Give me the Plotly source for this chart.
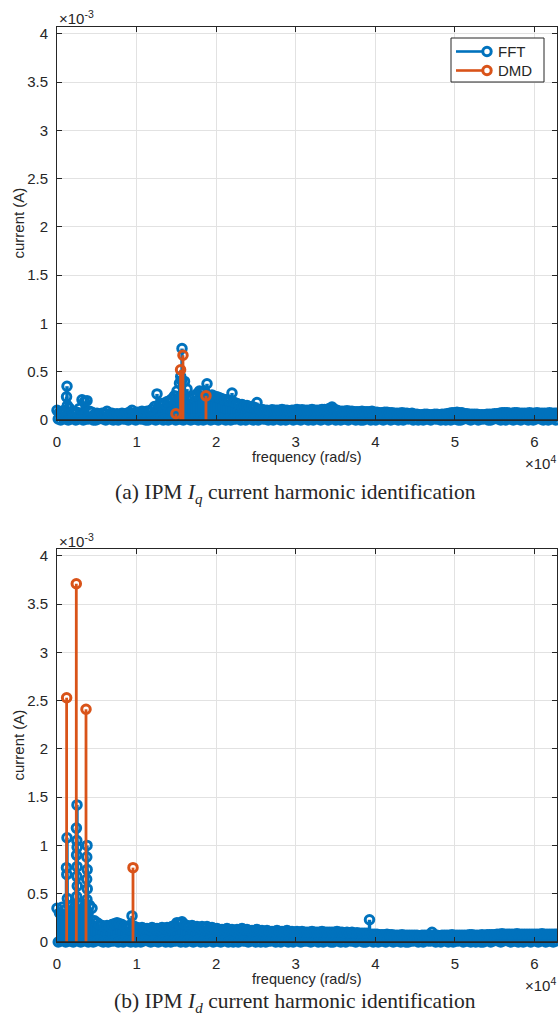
import numpy as np
import plotly.graph_objects as go

# ---------------------------------------------------------------------------
# Data (current amplitudes in mA, frequencies in rad/s)
# ---------------------------------------------------------------------------
BIN = 2 * np.pi * 50          # FFT bin spacing of the harmonic grid (rad/s)
X_MAX = 2 * np.pi * 1e4       # upper frequency limit (rad/s)
Y_MAX = 4.07e-3               # upper current limit (A)

# IPM Iq : FFT amplitude on the harmonic grid (bin k -> k*BIN)
fft_q_mA = [
    0.10, 0.08, 0.09, 0.10, 0.35, 0.12, 0.09, 0.08, 0.08, 0.12,
    0.21, 0.19, 0.20, 0.09, 0.08, 0.06, 0.07, 0.06, 0.07, 0.07,
    0.09, 0.06, 0.07, 0.06, 0.065, 0.06, 0.07, 0.06, 0.07, 0.08,
    0.10, 0.07, 0.08, 0.08, 0.09, 0.08, 0.09, 0.09, 0.11, 0.14,
    0.27, 0.16, 0.17, 0.17, 0.19, 0.20, 0.22, 0.25, 0.30, 0.38,
    0.74, 0.40, 0.32, 0.22, 0.24, 0.25, 0.27, 0.30, 0.29, 0.30,
    0.375, 0.25, 0.26, 0.24, 0.24, 0.23, 0.22, 0.21, 0.21, 0.20,
    0.28, 0.18, 0.17, 0.16, 0.16, 0.15, 0.15, 0.14, 0.14, 0.13,
    0.18, 0.11, 0.11, 0.10, 0.10, 0.095, 0.105, 0.10, 0.10, 0.10,
    0.11, 0.10, 0.10, 0.095, 0.10, 0.10, 0.11, 0.10, 0.105, 0.10,
    0.10, 0.10, 0.11, 0.10, 0.10, 0.10, 0.11, 0.11, 0.11, 0.12,
    0.135, 0.11, 0.10, 0.09, 0.09, 0.09, 0.095, 0.09, 0.09, 0.085,
    0.085, 0.085, 0.09, 0.085, 0.085, 0.085, 0.09, 0.08, 0.08, 0.075,
    0.075, 0.08, 0.08, 0.075, 0.075, 0.07, 0.07, 0.07, 0.075, 0.07,
    0.07, 0.065, 0.07, 0.06, 0.06, 0.055, 0.055, 0.06, 0.06, 0.055,
    0.055, 0.06, 0.06, 0.055, 0.06, 0.06, 0.065, 0.07, 0.075, 0.075,
    0.08, 0.075, 0.075, 0.065, 0.065, 0.06, 0.06, 0.06, 0.06, 0.055,
    0.055, 0.055, 0.06, 0.06, 0.06, 0.065, 0.065, 0.07, 0.075, 0.075,
    0.075, 0.07, 0.07, 0.075, 0.075, 0.07, 0.07, 0.07, 0.07, 0.075,
    0.07, 0.07, 0.075, 0.07, 0.07, 0.07, 0.07, 0.075, 0.07, 0.07,
    0.07,
]
# low-level bins in between the grid lines (bin k -> (k+0.5)*BIN)
fft_q_floor_mA = [
    0.01, 0.00, 0.02, 0.01, 0.00, 0.01, 0.03, 0.00, 0.01, 0.02,
    0.00, 0.01, 0.01, 0.02, 0.00, 0.00, 0.01, 0.02, 0.01, 0.00,
    0.02, 0.01, 0.00, 0.01, 0.00, 0.02, 0.01, 0.01, 0.00, 0.02,
    0.01, 0.00, 0.02, 0.01, 0.01, 0.00, 0.00, 0.02, 0.01, 0.00,
    0.01, 0.02, 0.00, 0.01, 0.00, 0.01, 0.02, 0.00, 0.01, 0.01,
    0.00, 0.02, 0.01, 0.00, 0.01, 0.01, 0.00, 0.02, 0.00, 0.01,
    0.02, 0.00, 0.01, 0.01, 0.00, 0.02, 0.01, 0.00, 0.01, 0.00,
    0.01, 0.01, 0.02, 0.00, 0.01, 0.00, 0.02, 0.01, 0.00, 0.01,
    0.00, 0.02, 0.01, 0.01, 0.00, 0.01, 0.00, 0.02, 0.01, 0.00,
    0.01, 0.00, 0.01, 0.02, 0.00, 0.01, 0.01, 0.00, 0.02, 0.01,
    0.00, 0.01, 0.00, 0.02, 0.01, 0.00, 0.01, 0.02, 0.00, 0.01,
    0.02, 0.00, 0.01, 0.00, 0.01, 0.01, 0.00, 0.02, 0.01, 0.00,
    0.01, 0.00, 0.00, 0.01, 0.02, 0.00, 0.01, 0.00, 0.02, 0.01,
    0.00, 0.01, 0.02, 0.00, 0.01, 0.01, 0.00, 0.01, 0.00, 0.02,
    0.01, 0.02, 0.00, 0.01, 0.00, 0.02, 0.00, 0.01, 0.01, 0.00,
    0.02, 0.01, 0.01, 0.00, 0.01, 0.00, 0.02, 0.00, 0.01, 0.01,
    0.00, 0.00, 0.01, 0.02, 0.01, 0.00, 0.01, 0.02, 0.00, 0.01,
    0.01, 0.02, 0.00, 0.00, 0.01, 0.02, 0.01, 0.00, 0.01, 0.00,
    0.02, 0.01, 0.00, 0.01, 0.01, 0.00, 0.02, 0.01, 0.00, 0.01,
    0.00, 0.01, 0.02, 0.01, 0.00, 0.01, 0.00, 0.01, 0.02, 0.00,
]
# side-band FFT lines close to the main harmonics
fft_q_side_freq = [1200, 1300, 15550, 15650]
fft_q_side_mA = [0.24, 0.15, 0.45, 0.41]
# DMD identified harmonics
dmd_q_freq = [14950, 15530, 15830, 18720]
dmd_q_mA = [0.065, 0.52, 0.67, 0.25]

# IPM Id : FFT amplitude on the harmonic grid
fft_d_mA = [
    0.35, 0.30, 0.36, 0.33, 1.08, 0.37, 0.38, 0.36, 1.42, 0.38,
    0.40, 0.37, 1.00, 0.38, 0.35, 0.22, 0.20, 0.18, 0.17, 0.16,
    0.17, 0.16, 0.18, 0.19, 0.20, 0.19, 0.18, 0.16, 0.16, 0.17,
    0.27, 0.16, 0.15, 0.14, 0.15, 0.14, 0.14, 0.13, 0.15, 0.14,
    0.14, 0.14, 0.15, 0.14, 0.15, 0.15, 0.16, 0.17, 0.20, 0.19,
    0.21, 0.18, 0.17, 0.16, 0.17, 0.16, 0.16, 0.15, 0.16, 0.15,
    0.16, 0.14, 0.15, 0.14, 0.14, 0.13, 0.13, 0.13, 0.14, 0.13,
    0.13, 0.12, 0.13, 0.13, 0.14, 0.13, 0.13, 0.12, 0.12, 0.12,
    0.13, 0.12, 0.12, 0.11, 0.12, 0.11, 0.11, 0.11, 0.12, 0.11,
    0.11, 0.11, 0.12, 0.11, 0.11, 0.10, 0.11, 0.10, 0.11, 0.10,
    0.10, 0.10, 0.11, 0.10, 0.10, 0.10, 0.11, 0.10, 0.10, 0.10,
    0.10, 0.10, 0.11, 0.10, 0.10, 0.095, 0.10, 0.095, 0.10, 0.09,
    0.095, 0.09, 0.09, 0.09, 0.09, 0.23, 0.08, 0.08, 0.08, 0.075,
    0.075, 0.075, 0.08, 0.075, 0.075, 0.07, 0.07, 0.07, 0.075, 0.07,
    0.07, 0.07, 0.07, 0.07, 0.07, 0.065, 0.07, 0.07, 0.07, 0.07,
    0.10, 0.07, 0.07, 0.065, 0.07, 0.07, 0.07, 0.07, 0.075, 0.07,
    0.07, 0.07, 0.07, 0.07, 0.07, 0.075, 0.075, 0.07, 0.07, 0.07,
    0.075, 0.07, 0.075, 0.075, 0.075, 0.075, 0.08, 0.08, 0.085, 0.08,
    0.08, 0.08, 0.08, 0.08, 0.085, 0.08, 0.08, 0.08, 0.08, 0.08,
    0.08, 0.08, 0.08, 0.08, 0.085, 0.08, 0.08, 0.08, 0.08, 0.08,
    0.08,
]
fft_d_floor_mA = [
    0.00, 0.01, 0.02, 0.00, 0.01, 0.01, 0.00, 0.02, 0.01, 0.00,
    0.01, 0.02, 0.00, 0.01, 0.00, 0.01, 0.02, 0.01, 0.00, 0.01,
    0.00, 0.01, 0.01, 0.02, 0.00, 0.01, 0.00, 0.02, 0.01, 0.00,
    0.02, 0.00, 0.01, 0.00, 0.01, 0.02, 0.01, 0.00, 0.01, 0.01,
    0.00, 0.01, 0.02, 0.00, 0.01, 0.00, 0.01, 0.01, 0.02, 0.00,
    0.01, 0.00, 0.02, 0.01, 0.00, 0.01, 0.02, 0.00, 0.01, 0.00,
    0.01, 0.02, 0.00, 0.01, 0.01, 0.00, 0.01, 0.02, 0.00, 0.01,
    0.00, 0.01, 0.00, 0.02, 0.01, 0.01, 0.00, 0.01, 0.02, 0.00,
    0.01, 0.00, 0.02, 0.00, 0.01, 0.01, 0.02, 0.00, 0.01, 0.00,
    0.02, 0.01, 0.00, 0.01, 0.00, 0.02, 0.01, 0.00, 0.01, 0.01,
    0.01, 0.00, 0.01, 0.02, 0.00, 0.01, 0.00, 0.01, 0.02, 0.00,
    0.00, 0.02, 0.01, 0.00, 0.01, 0.00, 0.02, 0.01, 0.01, 0.00,
    0.02, 0.01, 0.00, 0.00, 0.01, 0.02, 0.00, 0.01, 0.00, 0.01,
    0.01, 0.00, 0.02, 0.01, 0.00, 0.01, 0.01, 0.00, 0.02, 0.00,
    0.00, 0.01, 0.01, 0.02, 0.00, 0.01, 0.00, 0.02, 0.01, 0.01,
    0.02, 0.00, 0.01, 0.00, 0.02, 0.01, 0.00, 0.01, 0.00, 0.01,
    0.01, 0.02, 0.00, 0.01, 0.01, 0.00, 0.02, 0.00, 0.01, 0.00,
    0.00, 0.01, 0.02, 0.00, 0.01, 0.02, 0.01, 0.00, 0.01, 0.02,
    0.01, 0.00, 0.01, 0.01, 0.00, 0.02, 0.00, 0.01, 0.02, 0.00,
    0.02, 0.01, 0.00, 0.01, 0.02, 0.00, 0.01, 0.01, 0.00, 0.01,
]
fft_d_side_freq = [1190, 1230, 1300, 2440, 2490, 2530, 2460, 2520, 2480,
                   2550, 2470, 3740, 3790, 3730, 3800, 3760]
fft_d_side_mA = [0.77, 0.70, 0.45, 1.18, 1.05, 0.98, 0.90, 0.78, 0.68,
                 0.58, 0.47, 0.88, 0.75, 0.65, 0.55, 0.44]
dmd_d_freq = [1210, 2425, 3645, 9550]
dmd_d_mA = [2.53, 3.71, 2.41, 0.77]

# tick labels (scaled by the axis exponents)
x_tick_labels = ["0", "1", "2", "3", "4", "5", "6"]          # x 10^4
y_tick_labels = ["0", "0.5", "1", "1.5", "2", "2.5", "3", "3.5", "4"]  # x 10^-3

# ---------------------------------------------------------------------------
# Styling
# ---------------------------------------------------------------------------
BLUE = "#0072BD"
ORANGE = "#D95319"
INK = "#262626"
GRID = "#E2E2E2"
SANS = "Liberation Sans, Arial, Helvetica, sans-serif"
SERIF = "Liberation Serif, Times New Roman, serif"
MARK_SIZE = 8.5
MARK_LW = 3.0

W, H = 558, 1017
ML, MR, MT, MB = 57, 1, 27, 75
PW, PH = W - ML - MR, H - MT - MB


def px(x):
    """pixel column -> paper x"""
    return (x - ML) / PW


def py(y):
    """pixel row -> paper y"""
    return (H - MB - y) / PH


def stem_xy(freq, amp):
    xs, ys = [], []
    for f, a in zip(freq, amp):
        xs += [f, f, None]
        ys += [0.0, a, None]
    return xs, ys


def add_stem(fig, freq, amp, color, lw, xa, ya):
    xs, ys = stem_xy(freq, amp)
    fig.add_trace(go.Scatter(
        x=xs, y=ys, mode="lines", line=dict(color=color, width=lw),
        xaxis=xa, yaxis=ya, hoverinfo="skip", showlegend=False,
        cliponaxis=False))


def add_marks(fig, freq, amp, color, xa, ya):
    fig.add_trace(go.Scatter(
        x=list(freq), y=list(amp), mode="markers",
        marker=dict(symbol="circle-open", size=MARK_SIZE, color=color,
                    line=dict(width=MARK_LW, color=color)),
        xaxis=xa, yaxis=ya, showlegend=False, cliponaxis=False))


fig = go.Figure()

panels = [
    ("x", "y", fft_q_mA, fft_q_floor_mA, fft_q_side_freq, fft_q_side_mA,
     dmd_q_freq, dmd_q_mA),
    ("x2", "y2", fft_d_mA, fft_d_floor_mA, fft_d_side_freq, fft_d_side_mA,
     dmd_d_freq, dmd_d_mA),
]

for xa, ya, grid_mA, floor_mA, side_f, side_mA, dmd_f, dmd_mA in panels:
    grid_f = np.arange(len(grid_mA)) * BIN
    floor_f = (np.arange(len(floor_mA)) + 0.5) * BIN
    grid_a = np.array(grid_mA) * 1e-3
    floor_a = np.array(floor_mA) * 1e-3
    side_a = np.array(side_mA) * 1e-3
    dmd_a = np.array(dmd_mA) * 1e-3

    fft_f = np.concatenate([floor_f, grid_f, side_f])
    fft_a = np.concatenate([floor_a, grid_a, side_a])

    add_stem(fig, fft_f, fft_a, BLUE, 3.4, xa, ya)
    add_marks(fig, fft_f, fft_a, BLUE, xa, ya)
    add_stem(fig, dmd_f, dmd_a, ORANGE, 2.8, xa, ya)
    add_marks(fig, dmd_f, dmd_a, ORANGE, xa, ya)

# ---------------------------------------------------------------------------
# Axes
# ---------------------------------------------------------------------------
top_dom = [py(420), 1.0]
bot_dom = [0.0, py(549)]

x_common = dict(
    range=[0, X_MAX], tickvals=[i * 1e4 for i in range(7)],
    ticktext=x_tick_labels, ticks="inside", ticklen=5, tickcolor=INK,
    showline=True, linecolor=INK, linewidth=1, mirror="ticks",
    showgrid=True, gridcolor=GRID, gridwidth=1, zeroline=False,
    tickfont=dict(family=SANS, size=15, color=INK), ticklabelstandoff=8,
    domain=[0, 1],
)
y_common = dict(
    range=[0, Y_MAX], tickvals=[i * 0.5e-3 for i in range(9)],
    ticktext=y_tick_labels, ticks="inside", ticklen=5, tickcolor=INK,
    showline=True, linecolor=INK, linewidth=1, mirror="ticks",
    showgrid=True, gridcolor=GRID, gridwidth=1, zeroline=False,
    tickfont=dict(family=SANS, size=15, color=INK), ticklabelstandoff=5,
)

fig.update_layout(
    width=W, height=H,
    margin=dict(l=ML, r=MR, t=MT, b=MB, pad=0),
    paper_bgcolor="white", plot_bgcolor="white",
    showlegend=False,
    xaxis=dict(x_common, anchor="y"),
    yaxis=dict(y_common, anchor="x", domain=top_dom),
    xaxis2=dict(x_common, anchor="y2"),
    yaxis2=dict(y_common, anchor="x2", domain=bot_dom),
)

# stem baselines
for xa, ya in [("x", "y"), ("x2", "y2")]:
    fig.add_shape(type="line", xref=xa, yref=ya, x0=0, x1=X_MAX, y0=0, y1=0,
                  line=dict(color=INK, width=1.6), layer="above")

# ---------------------------------------------------------------------------
# Text: exponents, axis labels, captions
# ---------------------------------------------------------------------------
def note(text, x, y, size=14, family=SANS, xanchor="center", angle=0,
         color=INK):
    fig.add_annotation(text=text, x=px(x), y=py(y), xref="paper",
                       yref="paper", showarrow=False, xanchor=xanchor,
                       yanchor="middle", textangle=angle,
                       font=dict(family=family, size=size, color=color))


for top, bottom, cap_y, tag, sub in [(27, 420, 493, "(a)", "q"),
                                      (549, 942, 1002, "(b)", "d")]:
    note("\u00d710<sup>-3</sup>", 57, top - 9, size=15, xanchor="left")
    note("current (A)", 18, (top + bottom) / 2, size=15, angle=-90)
    note("frequency (rad/s)", 307, bottom + 37, size=14.5)
    note("\u00d710<sup>4</sup>", 558, bottom + 42, size=15, xanchor="right")
    note(f"{tag} IPM <i>I</i><sub><i>{sub}</i></sub> current harmonic identification",
         295, cap_y, size=21.5, family=SERIF)

# ---------------------------------------------------------------------------
# Legend (top panel, north-east)
# ---------------------------------------------------------------------------
fig.add_shape(type="rect", xref="paper", yref="paper",
              x0=px(451), x1=px(544), y0=py(82), y1=py(38),
              line=dict(color=INK, width=1), fillcolor="white", layer="above")
for name, color, yy in [("FFT", BLUE, 51.5), ("DMD", ORANGE, 70.5)]:
    fig.add_shape(type="line", xref="paper", yref="paper",
                  x0=px(456), x1=px(487), y0=py(yy), y1=py(yy),
                  line=dict(color=color, width=2.6), layer="above")
    fig.add_shape(type="circle", xref="paper", yref="paper",
                  xsizemode="pixel", ysizemode="pixel",
                  xanchor=px(487), yanchor=py(yy),
                  x0=-4.2, x1=4.2, y0=-4.2, y1=4.2,
                  line=dict(color=color, width=3), fillcolor="white",
                  layer="above")
    note(name, 496, yy, size=15, xanchor="left")

fig.write_html("out.html")
